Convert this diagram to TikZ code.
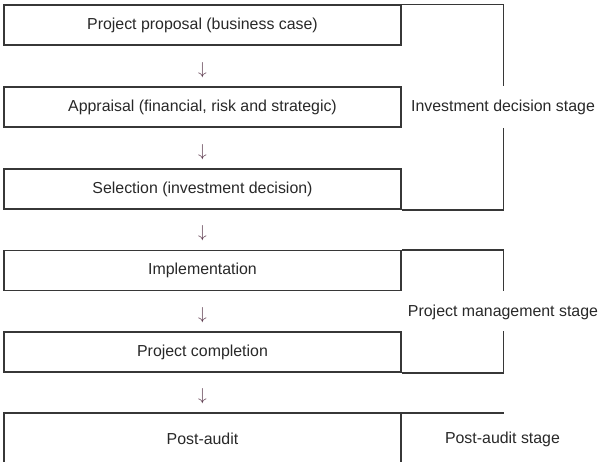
\documentclass[tikz,border=0pt]{standalone}
\usepackage{fontspec}
\setmainfont{Liberation Sans}
\definecolor{linec}{RGB}{55,55,55}
\definecolor{textc}{RGB}{40,40,40}
\definecolor{arrowc}{RGB}{90,55,75}
\begin{document}
\begin{tikzpicture}[x=1pt,y=-1pt,
  every node/.style={font=\fontsize{15.9}{18}\selectfont, text=textc, inner sep=0pt},
  box/.style={draw=linec, line width=1.5pt, minimum width=397pt, minimum height=40pt},
  stage/.style={anchor=center},
  arr/.style={text=arrowc},
  bline/.style={draw=linec, line width=1.5pt}]
\useasboundingbox (0,0) rectangle (600,461);
% boxes
\node[box] (b1) at (202.5,25) {Project proposal (business case)};
\node[box] (b2) at (202.5,107) {Appraisal (financial, risk and strategic)};
\node[box] (b3) at (202.5,189) {Selection (investment decision)};
\node[box] (b4) at (202.5,270.5) {Implementation};
\node[box] (b5) at (202.5,352) {Project completion};
\node (b6) at (202.5,439) {Post-audit};
% arrows
\node[arr] (a1) at (202.5,70) {$\downarrow$};
\node[arr] (a2) at (202.5,152) {$\downarrow$};
\node[arr] (a3) at (202.5,233.5) {$\downarrow$};
\node[arr] (a4) at (202.5,315) {$\downarrow$};
\node[arr] (a5) at (202.5,396.5) {$\downarrow$};
% stage labels
\node[stage] (s1) at (503,107) {Investment decision stage};
\node[stage] (s2) at (503,312) {Project management stage};
\node[stage] (s3) at (502.5,439) {Post-audit stage};
% investment bracket
\draw[bline] (b1.north east) -- ++(101.5,0) coordinate (i1) -- (i1 |- b2.north);
\draw[bline] (i1 |- b2.south) -- (i1 |- b3.south) -- (b3.south east);
% project management bracket
\draw[bline] (b4.north east) -- ++(101.5,0) coordinate (p1) -- (p1 |- b4.south);
\draw[bline] (p1 |- b5.north) -- (p1 |- b5.south) -- (b5.south east);
% post-audit open box
\coordinate (q1) at (4,470);
\coordinate (q2) at (4,413);
\coordinate (q3) at (503.5,413);
\coordinate (q4) at (401,413);
\coordinate (q5) at (401,470);
\draw[bline] (q1) -- (q2) -- (q3);
\draw[bline] (q4) -- (q5);
\end{tikzpicture}
\end{document}
